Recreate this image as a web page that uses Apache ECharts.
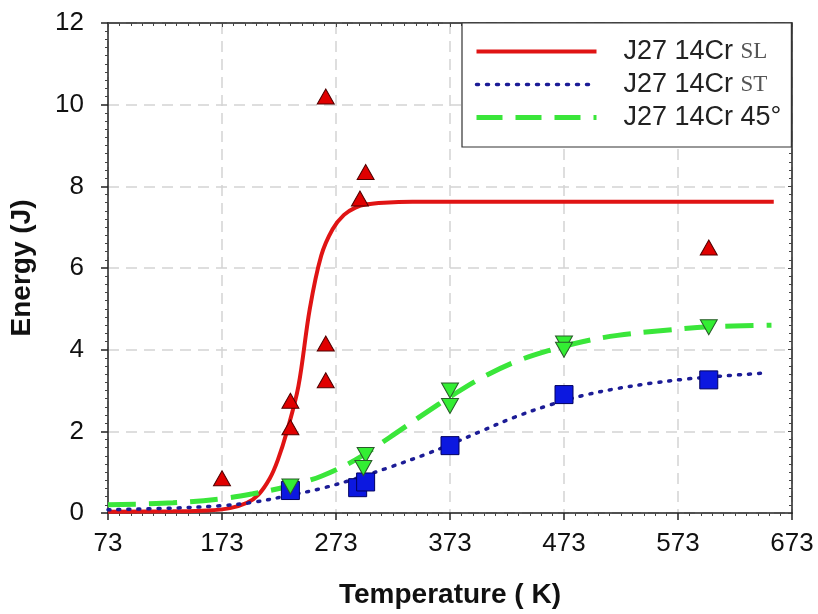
<!DOCTYPE html>
<html>
<head>
<meta charset="utf-8">
<script src="https://cdn.jsdelivr.net/npm/echarts@6/dist/echarts.min.js"></script>
<style>
html,body{margin:0;padding:0;background:#fff;}
#c{width:818px;height:614px;}
</style>
</head>
<body>
<div id="c"></div>
<script>
// Axis ticks
var xTicks = [73, 173, 273, 373, 473, 573, 673];
var yTicks = [0, 2, 4, 6, 8, 10, 12];

// Measured points: SL (red triangles)
var slTemp   = [264, 299, 294, 264, 264, 233, 233, 173, 600];
var slEnergy = [10.2, 8.35, 7.7, 4.15, 3.25, 2.75, 2.1, 0.85, 6.5];
// ST (blue squares)
var stTemp   = [233, 292, 299, 373, 473, 600];
var stEnergy = [0.55, 0.62, 0.76, 1.65, 2.9, 3.26];
// 45 deg (green inverted triangles)
var gTemp    = [233, 299, 297, 373, 373, 473, 473, 600];
var gEnergy  = [0.65, 1.42, 1.1, 3.0, 2.62, 4.15, 4.0, 4.55];

// Fitted curves
var slCurveT = [73, 130, 160, 180, 195, 205, 215, 222, 230, 240, 250, 260, 270, 280, 290, 300, 315, 340, 657];
var slCurveE = [0.03, 0.04, 0.06, 0.12, 0.25, 0.45, 0.85, 1.3, 2.0, 3.1, 5.0, 6.3, 6.95, 7.3, 7.48, 7.56, 7.6, 7.62, 7.62];
var stCurveT = [73, 130, 173, 200, 230, 260, 290, 320, 350, 375, 400, 430, 460, 490, 520, 550, 580, 610, 650];
var stCurveE = [0.08, 0.12, 0.18, 0.26, 0.42, 0.6, 0.84, 1.12, 1.42, 1.7, 2.0, 2.35, 2.64, 2.88, 3.05, 3.18, 3.28, 3.35, 3.43];
var gCurveT  = [73, 130, 173, 200, 230, 260, 290, 320, 350, 375, 400, 430, 460, 490, 520, 560, 600, 655];
var gCurveE  = [0.2, 0.25, 0.35, 0.47, 0.65, 0.9, 1.3, 1.85, 2.42, 2.88, 3.3, 3.7, 3.98, 4.2, 4.35, 4.47, 4.56, 4.6];

var legendNames = {SL: 'SL', ST: 'ST', A45: '45°'};

function zip(a, b) { return a.map(function (v, i) { return [v, b[i]]; }); }

var chart = echarts.init(document.getElementById('c'), null, {renderer: 'canvas'});
var FONT = 'Liberation Sans, Arial, sans-serif';

var gridLine = {show: true, lineStyle: {color: '#d4d4d4', width: 1.5, type: [11, 7]}};

var RED = '#e01414', BLUE = '#1c1c96', GREEN = '#3ae63a';

var option = {
  backgroundColor: '#ffffff',
  animation: false,
  grid: {left: 107, right: 26, top: 23, bottom: 98, containLabel: false},
  legend: {
    data: [
      {name: 'SL', lineStyle: {width: 4, color: RED, type: 'solid'}},
      {name: 'ST', lineStyle: {width: 3.5, color: BLUE, type: [2, 8], cap: 'round'}},
      {name: 'A45', lineStyle: {width: 5, color: GREEN, type: [26, 13]}}
    ],
    orient: 'vertical',
    left: 462, top: 23,
    padding: [12, 10, 13, 12],
    backgroundColor: '#ffffff',
    borderColor: '#333333',
    borderWidth: 1.2,
    borderRadius: 0,
    itemWidth: 120,
    itemHeight: 14,
    itemGap: 0,
    selectedMode: false,
    itemStyle: {opacity: 0},
    formatter: function (n) {
      if (n === 'A45') return '{a|J27 14Cr 45°}';
      return '{a|J27 14Cr }{b|' + legendNames[n] + '}';
    },
    textStyle: {
      padding: [0, 0, 0, 22],
      lineHeight: 33,
      rich: {
        a: {fontFamily: FONT, fontSize: 27, color: '#222222', lineHeight: 33},
        b: {fontFamily: 'Liberation Serif, Times New Roman, serif', fontSize: 23, color: '#555555', lineHeight: 33}
      }
    }
  },
  xAxis: [{
    type: 'value', min: 73, max: 673, interval: 100,
    name: 'Temperature ( K)', nameLocation: 'middle', nameGap: 68,
    nameTextStyle: {fontFamily: FONT, fontSize: 28, fontWeight: 'bold', color: '#111'},
    axisLine: {show: true, onZero: false, lineStyle: {color: '#222', width: 1.5}},
    axisTick: {show: true, inside: false, length: 7, lineStyle: {color: '#222', width: 1.5}},
    minorTick: {show: true, splitNumber: 10, length: 3, lineStyle: {color: '#444', width: 1}},
    axisLabel: {margin: 18, fontFamily: FONT, fontSize: 26, color: '#111',
      formatter: function (v) { return xTicks.indexOf(v) >= 0 ? String(v) : ''; }},
    splitLine: gridLine
  }, {
    type: 'value', min: 73, max: 673, interval: 100, position: 'top',
    axisLine: {show: true, onZero: false, lineStyle: {color: '#222', width: 1.5}},
    axisTick: {show: true, inside: true, length: 4, lineStyle: {color: '#444'}},
    minorTick: {show: true, splitNumber: 10, length: 3, lineStyle: {color: '#444', width: 1}},
    axisLabel: {show: false}, splitLine: {show: false}
  }],
  yAxis: [{
    type: 'value', min: 0, max: 12, interval: 2,
    name: 'Energy (J)', nameLocation: 'middle', nameGap: 72,
    nameTextStyle: {fontFamily: FONT, fontSize: 28, fontWeight: 'bold', color: '#111'},
    axisLine: {show: true, onZero: false, lineStyle: {color: '#222', width: 1.5}},
    axisTick: {show: true, inside: false, length: 7, lineStyle: {color: '#222', width: 1.5}},
    minorTick: {show: true, splitNumber: 10, length: 3, lineStyle: {color: '#444', width: 1}},
    axisLabel: {margin: 24, fontFamily: FONT, fontSize: 26, color: '#111',
      formatter: function (v) { return yTicks.indexOf(v) >= 0 ? String(v) : ''; }},
    splitLine: gridLine
  }, {
    type: 'value', min: 0, max: 12, interval: 2, position: 'right',
    axisLine: {show: true, onZero: false, lineStyle: {color: '#222', width: 1.5}},
    axisTick: {show: true, inside: true, length: 4, lineStyle: {color: '#444'}},
    minorTick: {show: true, splitNumber: 10, length: 3, lineStyle: {color: '#444', width: 1}},
    axisLabel: {show: false}, splitLine: {show: false}
  }],
  series: [
    {
      name: 'SL', type: 'line', data: zip(slCurveT, slCurveE), showSymbol: false, symbol: 'none',
      smooth: 0.35, z: 3,
      lineStyle: {color: RED, width: 4, type: 'solid'}, itemStyle: {color: RED}
    },
    {
      name: 'ST', type: 'line', data: zip(stCurveT, stCurveE), showSymbol: false, symbol: 'none',
      smooth: 0.35, z: 3,
      lineStyle: {color: BLUE, width: 3.5, type: [2, 8], cap: 'round'}, itemStyle: {color: BLUE}
    },
    {
      name: 'A45', type: 'line', data: zip(gCurveT, gCurveE), showSymbol: false, symbol: 'none',
      smooth: 0.35, z: 3,
      lineStyle: {color: GREEN, width: 5, type: [28, 13]}, itemStyle: {color: GREEN}
    },
    {
      name: 'SLpts', type: 'scatter', data: zip(slTemp, slEnergy), symbol: 'triangle', symbolSize: [17, 15], z: 4,
      itemStyle: {color: '#e00000', borderColor: '#500000', borderWidth: 1, opacity: 1}
    },
    {
      name: 'STpts', type: 'scatter', data: zip(stTemp, stEnergy), symbol: 'rect', symbolSize: 18, z: 4,
      itemStyle: {color: '#0c18e0', borderColor: '#000060', borderWidth: 1, opacity: 1}
    },
    {
      name: 'Gpts', type: 'scatter', data: zip(gTemp, gEnergy), symbol: 'triangle', symbolRotate: 180, symbolSize: [17, 15], z: 4,
      itemStyle: {color: '#33ee33', borderColor: '#2a5a2a', borderWidth: 1, opacity: 1}
    }
  ]
};
chart.setOption(option);
</script>
</body>
</html>
